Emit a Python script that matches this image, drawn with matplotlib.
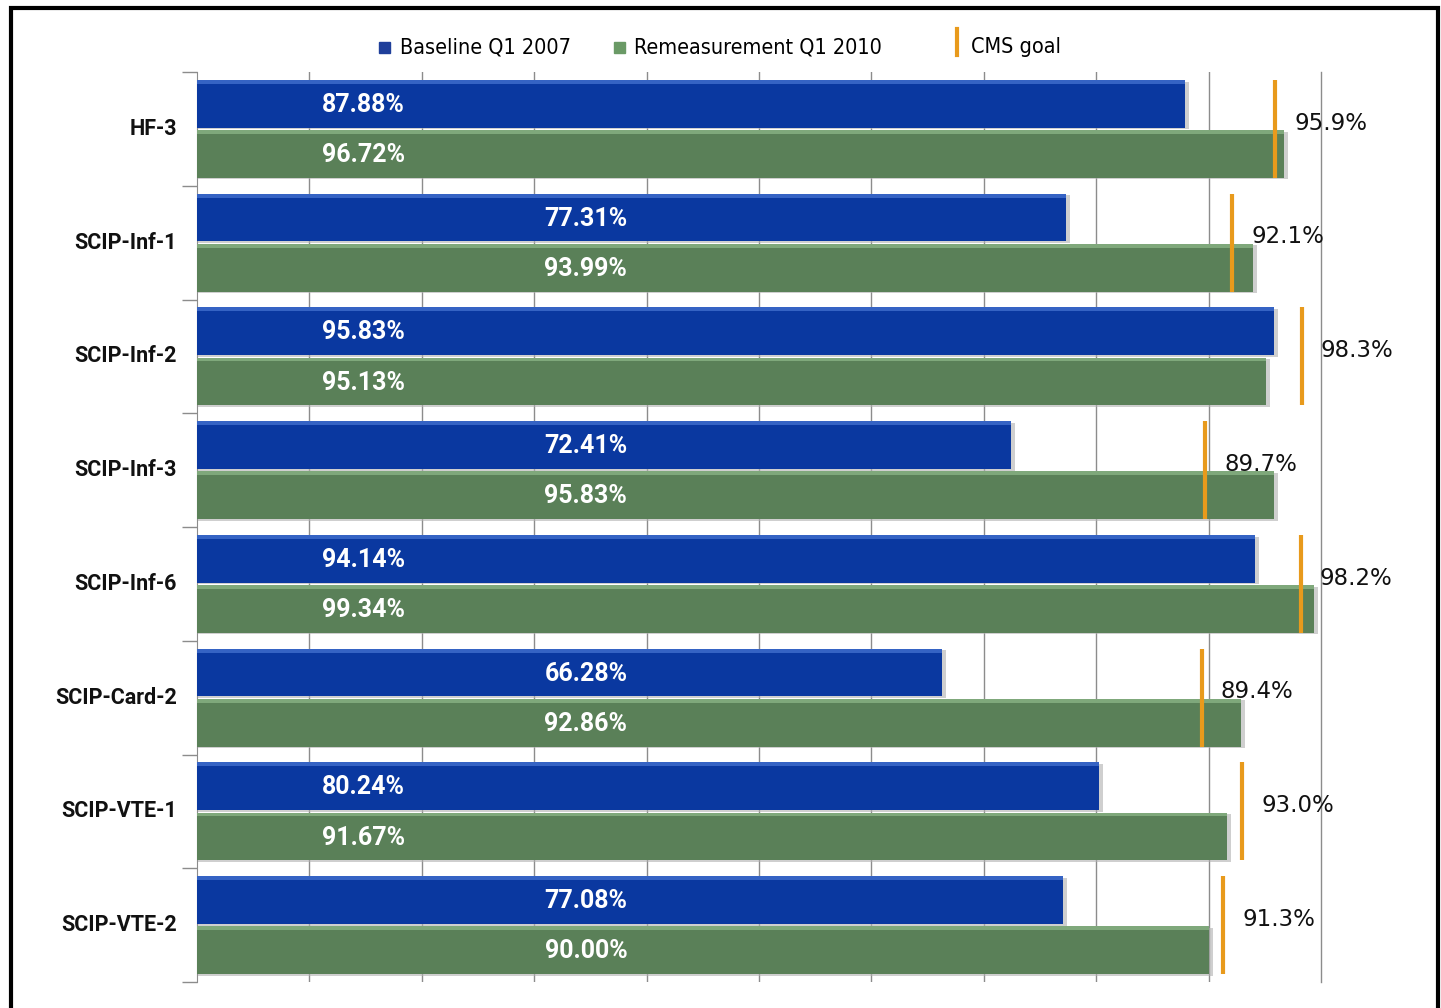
import matplotlib

matplotlib.use("Agg")
import matplotlib.pyplot as plt
import numpy as np
from matplotlib.lines import Line2D
from matplotlib.patches import Rectangle

measures = ["HF-3", "SCIP-Inf-1", "SCIP-Inf-2", "SCIP-Inf-3",
            "SCIP-Inf-6", "SCIP-Card-2", "SCIP-VTE-1", "SCIP-VTE-2"]
baseline_2007 = [87.88, 77.31, 95.83, 72.41, 94.14, 66.28, 80.24, 77.08]
remeasure_2010 = [96.72, 93.99, 95.13, 95.83, 99.34, 92.86, 91.67, 90.00]
cms_goal = [95.9, 92.1, 98.3, 89.7, 98.2, 89.4, 93.0, 91.3]

BLUE = "#0a38a0"
BLUE_HI = "#3563c4"
GREEN = "#5a8058"
GREEN_HI = "#7fa87b"
ORANGE = "#e89a1c"
GRIDC = "#8c8c8c"
NARROW = ["Roboto", "DejaVu Sans"]
W, H = 1441, 1008

plt.rcParams["font.family"] = "DejaVu Sans"

fig = plt.figure(figsize=(W / 100, H / 100), dpi=100)
ax = fig.add_axes([197 / W, 1 - 982 / H, (1321 - 197) / W, 910 / H])

y = np.arange(len(measures))
bh = 0.42
off = 0.22
hi = 0.035


def draw_bars(vals, yc, color, hicolor):
    # soft drop shadow, then the bar, then a lighter top rim
    ax.barh(yc + 0.015, np.array(vals) + 0.35, height=bh, color="#b0b0b0",
            alpha=0.6, zorder=2, edgecolor="none")
    ax.barh(yc, vals, height=bh, color=color, zorder=3, edgecolor="none")
    ax.barh(yc - bh / 2 + hi / 2, vals, height=hi, color=hicolor,
            zorder=4, edgecolor="none")


draw_bars(baseline_2007, y - off, BLUE, BLUE_HI)
draw_bars(remeasure_2010, y + off, GREEN, GREEN_HI)

label_x = [14.8 if i % 2 == 0 else 34.6 for i in range(len(measures))]
val_font = dict(family=NARROW, weight="bold", fontsize=18, color="white",
                ha="center", va="center", zorder=5)
for i, (b, r) in enumerate(zip(baseline_2007, remeasure_2010)):
    ax.text(label_x[i], y[i] - off + 0.01, f"{b:.2f}%", **val_font)
    ax.text(label_x[i], y[i] + off + 0.01, f"{r:.2f}%", **val_font)

for i, g in enumerate(cms_goal):
    ax.plot([g, g], [y[i] - off - bh / 2, y[i] + off + bh / 2], color=ORANGE,
            lw=3, zorder=6, solid_capstyle="butt")
    ax.text(g + 1.7, y[i] - 0.05, f"{g:.1f}%", fontsize=16.5, color="#111111",
            ha="left", va="center", zorder=7, clip_on=False)

ax.set_xlim(0, 100)
ax.set_ylim(len(measures) - 0.5, -0.5)
ax.set_xticks(np.arange(10, 100, 10))
ax.xaxis.grid(True, color=GRIDC, lw=1)
ax.axvline(100, color=GRIDC, lw=1, clip_on=False, zorder=0.5)
ax.set_axisbelow(True)
ax.tick_params(axis="x", length=0, labelbottom=False)
ax.set_yticks(np.arange(-0.5, len(measures)), minor=False)
ax.set_yticklabels([])
ax.tick_params(axis="y", direction="out", length=11, color=GRIDC, width=1)
for i, m in enumerate(measures):
    ax.text(-1.8, y[i], m, fontsize=15.5, weight="bold", family=NARROW,
            ha="right", va="center", color="#111111")
for s in ["top", "right", "bottom"]:
    ax.spines[s].set_visible(False)
ax.spines["left"].set_color(GRIDC)

# legend drawn by hand along the top
leg_font = dict(fontsize=15.5, fontstretch="condensed", va="center",
                ha="left")
fig.patches.append(Rectangle((379 / W, 1 - 53 / H), 11 / W, 11 / H,
                             color="#1f3f9a", transform=fig.transFigure))
fig.text(400 / W, 1 - 47 / H, "Baseline Q1 2007", **leg_font)
fig.patches.append(Rectangle((614 / W, 1 - 53 / H), 11 / W, 11 / H,
                             color="#6a9a66", transform=fig.transFigure))
fig.text(634 / W, 1 - 47 / H, "Remeasurement Q1 2010", **leg_font)
fig.lines.append(Line2D([957 / W, 957 / W], [1 - 29 / H, 1 - 55 / H],
                        color=ORANGE, lw=3, transform=fig.transFigure))
fig.text(971 / W, 1 - 47 / H, "CMS goal", **leg_font)

# outer frame
fig.patches.append(Rectangle((11 / W, -0.01), 1427 / W, 1 - 8 / H + 0.01,
                             fill=False, edgecolor="black", lw=3,
                             transform=fig.transFigure))

fig.savefig("out.png", dpi=100, facecolor="white")
